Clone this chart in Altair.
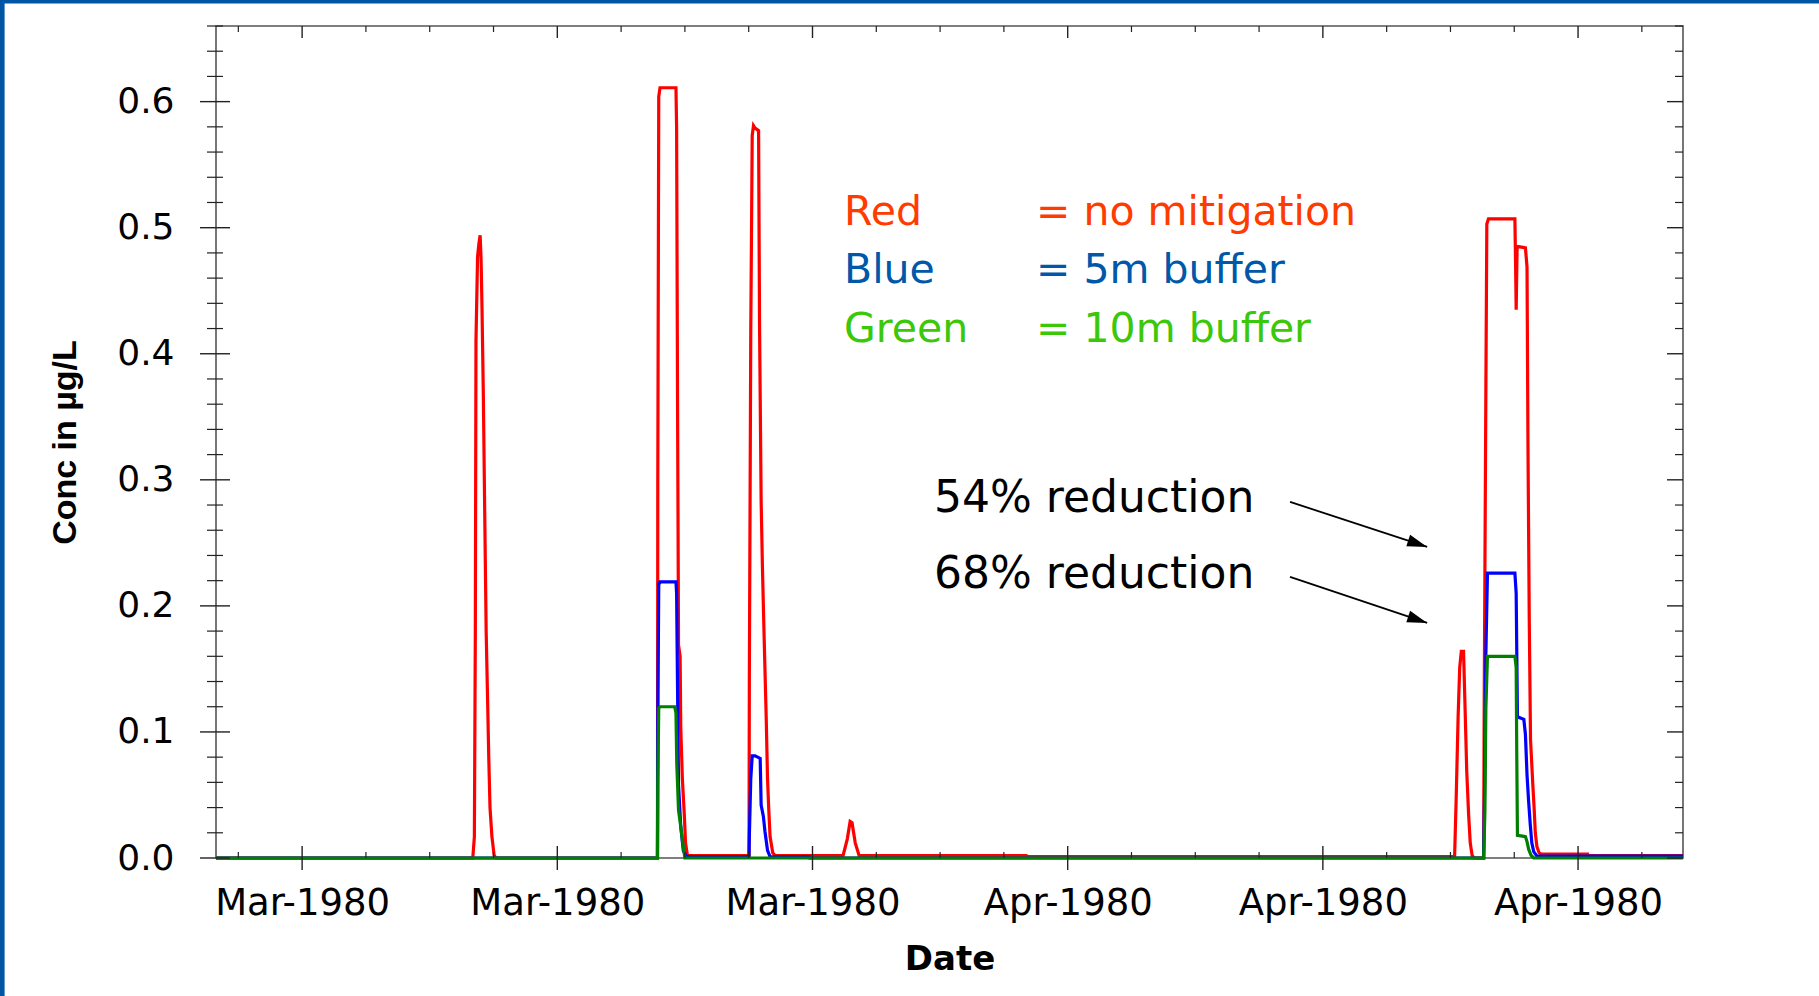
import altair as alt
import pandas as pd

# ---------------- data (days since 1980-03-01 00:00 UTC, concentration in ug/L) -------------
red_days = [5.30, 13.35, 13.40, 13.43, 13.45, 13.50, 13.54, 13.58, 13.61, 13.64, 13.68, 13.73,
            13.77, 13.81, 13.85, 13.89, 13.95, 14.02, 14.08,
            19.14, 19.15, 19.18, 19.22, 19.72, 19.74, 19.77, 19.80, 19.85, 19.87, 19.92, 19.98,
            20.02, 20.08,
            22.01, 22.02, 22.065, 22.11, 22.15, 22.20, 22.31, 22.34, 22.39, 22.43, 22.48, 22.55,
            22.59, 22.63, 22.67, 22.755, 22.83,
            24.96, 25.09, 25.18, 25.24, 25.34, 25.46,
            30.70, 30.71,
            44.13, 44.18, 44.24, 44.29, 44.34, 44.41, 44.46, 44.51, 44.57, 44.62, 44.68, 44.75,
            45.04, 45.06, 45.11, 45.14, 45.19, 46.02, 46.04, 46.06, 46.09, 46.14, 46.35, 46.40,
            46.43, 46.47, 46.51, 46.58, 46.62, 46.66, 46.71, 46.78, 46.86,
            48.30, 48.31, 51.29]
red_vals = [0.0, 0.0, 0.017, 0.179, 0.410, 0.477, 0.487, 0.494, 0.475, 0.435, 0.369, 0.262,
            0.179, 0.131, 0.081, 0.040, 0.017, 0.002, 0.0,
            0.0, 0.296, 0.604, 0.611, 0.611, 0.579, 0.358, 0.169, 0.160, 0.104, 0.063, 0.035,
            0.012, 0.002,
            0.002, 0.140, 0.419, 0.573, 0.581, 0.579, 0.577, 0.423, 0.283, 0.231, 0.179, 0.110,
            0.063, 0.038, 0.017, 0.004, 0.002,
            0.002, 0.015, 0.029, 0.028, 0.012, 0.002,
            0.002, 0.0012,
            0.0012, 0.048, 0.112, 0.151, 0.164, 0.164, 0.117, 0.069, 0.034, 0.012, 0.002, 0.0,
            0.0, 0.133, 0.371, 0.503, 0.507, 0.507, 0.474, 0.435, 0.485, 0.485, 0.484, 0.469,
            0.327, 0.190, 0.094, 0.059, 0.041, 0.020, 0.009, 0.004, 0.003,
            0.003, 0.002, 0.002]

blue_days = [5.30, 19.14, 19.15, 19.18, 19.22, 19.72, 19.74, 19.77, 19.80, 19.87, 19.95, 20.05,
             22.01, 22.02, 22.065, 22.11, 22.20, 22.36, 22.39, 22.46, 22.51, 22.59, 22.67,
             23.90, 23.91,
             45.04, 45.07, 45.11, 45.16, 46.02, 46.06, 46.10, 46.30, 46.35, 46.40, 46.45, 46.50,
             46.55, 46.61, 46.71, 51.29]
blue_vals = [0.0, 0.0, 0.104, 0.217, 0.219, 0.219, 0.210, 0.133, 0.058, 0.025, 0.006, 0.001,
             0.001, 0.017, 0.063, 0.081, 0.081, 0.079, 0.042, 0.033, 0.021, 0.006, 0.001,
             0.001, 0.0,
             0.0, 0.055, 0.162, 0.226, 0.226, 0.210, 0.112, 0.110, 0.098, 0.066, 0.045, 0.027,
             0.012, 0.005, 0.0015, 0.0015]

green_days = [5.30, 19.14, 19.15, 19.18, 19.22, 19.68, 19.72, 19.745, 19.80, 19.87, 19.93, 20.00,
              45.04, 45.08, 45.11, 45.16, 46.02, 46.06, 46.08, 46.10, 46.35, 46.40, 46.45, 46.53,
              46.61, 51.29]
green_vals = [0.0, 0.0, 0.058, 0.119, 0.120, 0.120, 0.115, 0.075, 0.038, 0.025, 0.0125, 0.0,
              0.0, 0.037, 0.119, 0.160, 0.160, 0.151, 0.078, 0.018, 0.017, 0.013, 0.007, 0.002,
              0.0, 0.0]

series_names = ["red", "blue", "green"]
series_colors = ["#FF0000", "#0000FF", "#008000"]

x_domain_days = [5.30, 51.29]
x_major_days = [8, 16, 24, 32, 40, 48]          # labelled Mar-1980 x3, Apr-1980 x3
x_minor_days = [6, 10, 12, 14, 18, 20, 22, 26, 28, 30, 34, 36, 38, 42, 44, 46, 50]
y_major = [0.0, 0.1, 0.2, 0.3, 0.4, 0.5, 0.6]
y_minor = [0.02, 0.04, 0.06, 0.08, 0.12, 0.14, 0.16, 0.18, 0.22, 0.24, 0.26, 0.28,
           0.32, 0.34, 0.36, 0.38, 0.42, 0.44, 0.46, 0.48, 0.52, 0.54, 0.56, 0.58,
           0.62, 0.64, 0.66]

legend_names = ["Red", "Blue", "Green"]
legend_desc = ["= no mitigation", "= 5m buffer", "= 10m buffer"]
legend_colors = ["#FF3C00", "#0058A8", "#3CC80A"]
legend_vals = [0.5024, 0.4563, 0.4095]
legend_day_name = 24.99
legend_day_desc = 31.01

note_texts = ["54% reduction", "68% reduction"]
note_vals = [0.2746, 0.2143]
note_day = 27.81

arrow_from_days = [38.97, 38.97]
arrow_from_vals = [0.2825, 0.2230]
arrow_to_days = [43.27, 43.27]
arrow_to_vals = [0.2468, 0.1865]

# ---------------- build tables -------------
BASE_MS = int(pd.Timestamp("1980-03-01", tz="UTC").value // 10**6)
DAY_MS = 86400000


def ms(d):
    return BASE_MS + d * DAY_MS


rows = []
for name, days, vals in [("red", red_days, red_vals), ("blue", blue_days, blue_vals),
                         ("green", green_days, green_vals)]:
    for i, (d, v) in enumerate(zip(days, vals)):
        rows.append({"t": ms(d), "v": v, "s": name, "i": i})
df = pd.DataFrame(rows)

W, H = 1467, 832
x_scale = alt.Scale(type="utc", domain=[ms(x_domain_days[0]), ms(x_domain_days[1])])
y_scale = alt.Scale(domain=[0, 0.66], nice=False, zero=False)

x_axis = alt.Axis(values=[ms(d) for d in x_major_days], format="%b-%Y",
                  labelFont="DejaVu Sans", labelFontSize=37, labelColor="#000000",
                  labelPadding=27, ticks=False, tickSize=0, domain=False, grid=False,
                  labelFlush=False, labelOverlap=False,
                  title="Date", titleFont="DejaVu Sans", titleFontSize=34,
                  titleFontWeight="bold", titleColor="#000000",
                  titleX=W / 2, titleY=111, titleAlign="center", titleBaseline="alphabetic")
y_axis = alt.Axis(values=y_major, format=".1f",
                  labelFont="DejaVu Sans", labelFontSize=36, labelColor="#000000",
                  labelPadding=42, ticks=False, tickSize=0, domain=False, grid=False,
                  labelFlush=False, labelOverlap=False,
                  title="Conc in µg/L", titleFont="Liberation Sans", titleFontSize=34,
                  titleFontWeight="bold", titleColor="#000000",
                  titleX=-141, titleY=H / 2, titleAngle=-90, titleAlign="center",
                  titleBaseline="alphabetic")


def X(field):
    return alt.X(field, scale=x_scale, axis=x_axis)


def Y(field):
    return alt.Y(field, scale=y_scale, axis=y_axis)


base = alt.Chart(df)
layers = []
for name, col in zip(series_names, series_colors):
    layers.append(base.transform_filter(alt.datum.s == name)
                  .mark_line(color=col, strokeWidth=3.2, strokeJoin="miter")
                  .encode(x=X("t:T"), y=Y("v:Q"), order="i:Q"))

tick_color = "#222222"
xmaj = alt.Chart(pd.DataFrame({"t": [ms(d) for d in x_major_days]}))
xmin = alt.Chart(pd.DataFrame({"t": [ms(d) for d in x_minor_days]}))
ymaj = alt.Chart(pd.DataFrame({"v": y_major}))
ymin = alt.Chart(pd.DataFrame({"v": y_minor}))
tick_layers = [
    xmaj.mark_rule(color=tick_color, strokeWidth=1.4).encode(x=X("t:T"), y=alt.value(H - 12), y2=alt.value(H + 12)),
    xmaj.mark_rule(color=tick_color, strokeWidth=1.4).encode(x=X("t:T"), y=alt.value(0), y2=alt.value(12)),
    xmin.mark_rule(color=tick_color, strokeWidth=1.2).encode(x=X("t:T"), y=alt.value(H - 6), y2=alt.value(H)),
    xmin.mark_rule(color=tick_color, strokeWidth=1.2).encode(x=X("t:T"), y=alt.value(0), y2=alt.value(6)),
    ymaj.mark_rule(color=tick_color, strokeWidth=1.4).encode(y=Y("v:Q"), x=alt.value(-16), x2=alt.value(14)),
    ymaj.mark_rule(color=tick_color, strokeWidth=1.4).encode(y=Y("v:Q"), x=alt.value(W - 16), x2=alt.value(W)),
    ymin.mark_rule(color=tick_color, strokeWidth=1.2).encode(y=Y("v:Q"), x=alt.value(-9), x2=alt.value(7)),
    ymin.mark_rule(color=tick_color, strokeWidth=1.2).encode(y=Y("v:Q"), x=alt.value(W - 8), x2=alt.value(W)),
]

# legend text
leg_df = pd.DataFrame({
    "t": [ms(legend_day_name)] * 3, "t2": [ms(legend_day_desc)] * 3,
    "v": legend_vals, "name": legend_names, "desc": legend_desc, "c": legend_colors})
leg = alt.Chart(leg_df)
legend_layers = [
    leg.mark_text(align="left", baseline="alphabetic", font="DejaVu Sans", fontSize=41).encode(
        x=X("t:T"), y=Y("v:Q"), text="name:N", color=alt.Color("c:N", scale=None)),
    leg.transform_calculate(t="datum.t2").mark_text(
        align="left", baseline="alphabetic", font="DejaVu Sans", fontSize=41).encode(
        x=X("t:T"), y=Y("v:Q"), text="desc:N", color=alt.Color("c:N", scale=None)),
]

note_df = pd.DataFrame({"t": [ms(note_day)] * 2, "v": note_vals, "txt": note_texts})
note_layer = alt.Chart(note_df).mark_text(align="left", baseline="alphabetic", font="DejaVu Sans",
                                          fontSize=44, color="#000000").encode(
    x=X("t:T"), y=Y("v:Q"), text="txt:N")

arr_df = pd.DataFrame({"t": [ms(d) for d in arrow_from_days], "v": arrow_from_vals,
                       "t2": [ms(d) for d in arrow_to_days], "v2": arrow_to_vals})
arr = alt.Chart(arr_df)
arrow_rule = arr.mark_rule(color="#000000", strokeWidth=1.8).encode(
    x=X("t:T"), y=Y("v:Q"), x2="t2:T", y2="v2:Q")
arrow_head = arr.transform_calculate(t="datum.t2", v="datum.v2").mark_point(
    shape="M0,0 L-1,-0.3 L-1,0.3 Z", filled=True, size=1600,
    color="#000000", opacity=1, angle=18.6).encode(x=X("t:T"), y=Y("v:Q"))

# blue slide frame (left and top edges)
one = alt.Data(values=[{}])
frame_layers = [
    alt.Chart(one).mark_rect(color="#0055A4").encode(
        x=alt.value(-216), x2=alt.value(-211.4), y=alt.value(-26), y2=alt.value(996 - 26)),
    alt.Chart(one).mark_rect(color="#0055A4").encode(
        x=alt.value(-216), x2=alt.value(1819 - 216), y=alt.value(-26), y2=alt.value(-22.6)),
]

chart = alt.layer(*layers, *tick_layers, *legend_layers, note_layer, arrow_rule, arrow_head,
                  *frame_layers).properties(
    width=W, height=H,
    autosize=alt.AutoSizeParams(type="none"),
    padding={"left": 216, "top": 26, "right": 1819 - 216 - W, "bottom": 996 - 26 - H},
    background="#FFFFFF",
).configure_view(stroke="#555555", strokeWidth=1.6)

chart.save("out.html", embed_options={"renderer": "svg", "actions": False})
